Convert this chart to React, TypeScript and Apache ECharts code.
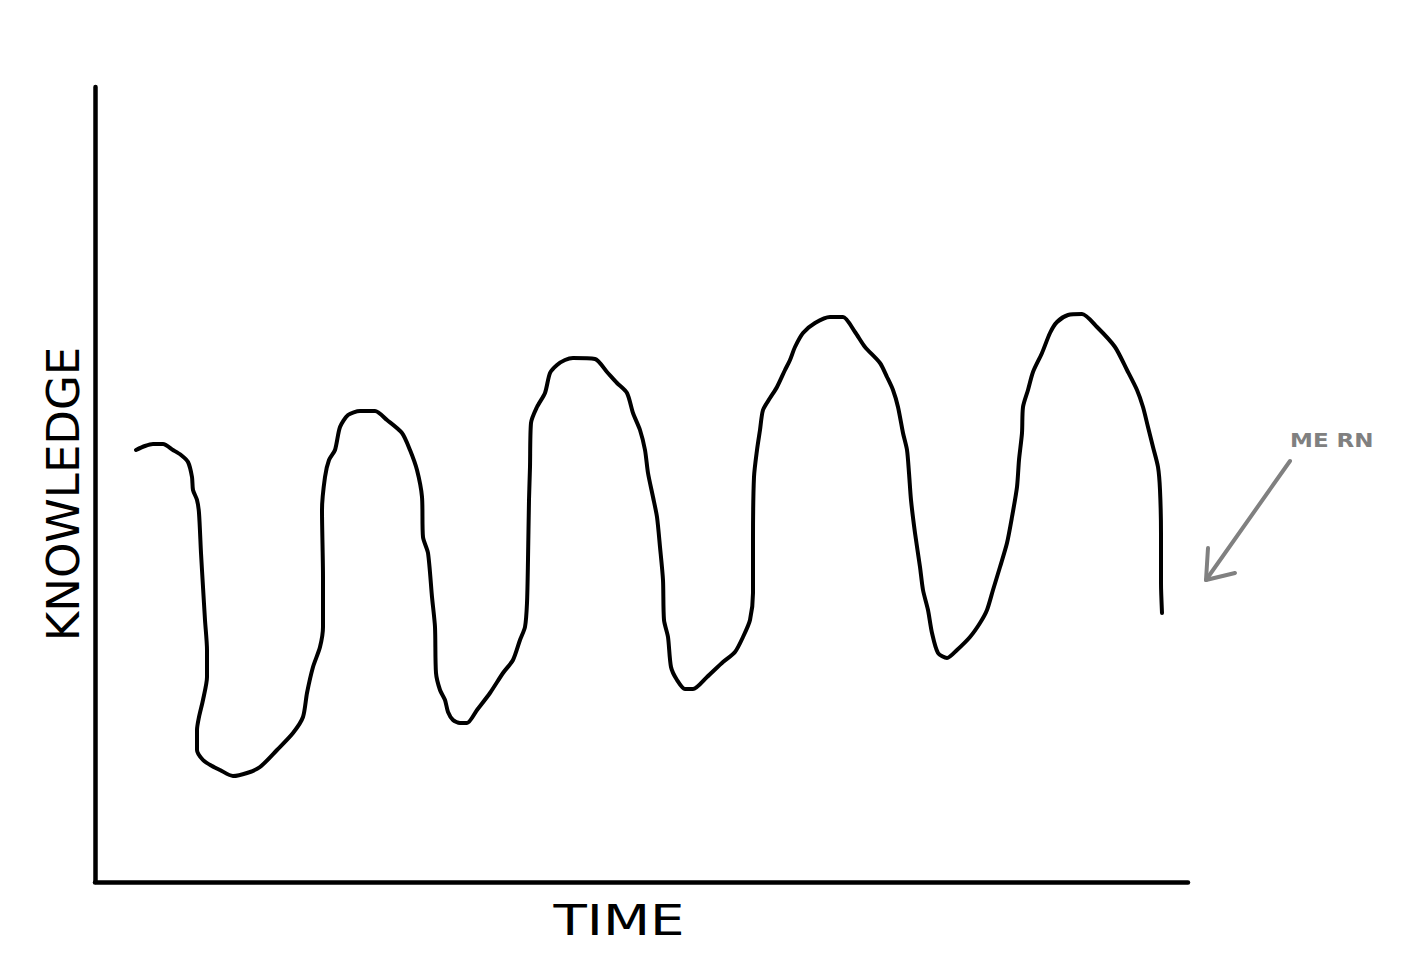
import React, { useEffect, useRef } from "react";
import * as echarts from "echarts";

// Curve: time (x) and knowledge (y), arbitrary units
const timeValues = [
  41, 50, 58, 68, 78, 86, 93, 97, 98, 102, 104, 106, 108, 110, 112, 112, 108, 104, 102, 102,
  108, 117, 125, 138, 152, 165, 182, 198, 208, 212, 218, 225, 228, 228, 227, 230, 234, 240, 245, 253,
  265, 280, 292, 307, 315, 322, 327, 328, 333, 337, 340, 341, 345, 350, 353, 358, 365, 372, 382, 395,
  408, 418, 425, 430, 432, 433, 434, 435, 436, 442, 450, 455, 462, 470, 478, 500, 512, 522, 532, 538,
  545, 550, 553, 558, 562, 565, 568, 569, 573, 576, 582, 590, 598, 612, 628, 640, 648, 655, 658, 658,
  659, 662, 665, 668, 675, 682, 690, 695, 700, 708, 720, 735, 748, 760, 770, 785, 792, 798, 803, 808,
  812, 814, 816, 820, 825, 828, 833, 837, 843, 852, 862, 875, 885, 892, 898, 905, 912, 917, 922, 924,
  927, 928, 933, 938, 947, 955, 962, 973, 987, 1002, 1020, 1032, 1042, 1048, 1053, 1058, 1063, 1065, 1066, 1066,
  1067,
];
const knowledgeValues = [
  432, 436, 438, 438, 432, 427, 420, 405, 392, 382, 369, 329, 295, 262, 232, 205, 182, 165, 152, 132,
  122, 116, 112, 106, 109, 115, 132, 149, 165, 189, 215, 235, 255, 305, 372, 405, 422, 432, 455, 467,
  471, 471, 462, 449, 432, 412, 385, 345, 329, 285, 255, 209, 192, 182, 170, 162, 159, 159, 172, 189,
  209, 222, 242, 255, 279, 322, 382, 415, 459, 475, 489, 509, 517, 522, 524, 523, 510, 499, 489, 469,
  452, 432, 409, 385, 365, 335, 302, 262, 245, 215, 202, 193, 193, 205, 220, 230, 245, 262, 289, 342,
  405, 432, 452, 472, 484, 495, 512, 522, 535, 549, 559, 565, 565, 550, 535, 519, 505, 492, 475, 449,
  432, 409, 382, 349, 315, 292, 272, 249, 229, 224, 232, 245, 259, 272, 292, 315, 339, 365, 395, 422,
  449, 475, 492, 510, 529, 549, 560, 567, 568, 555, 535, 512, 492, 475, 455, 435, 415, 392, 349, 299,
  269,
];

const axisTitles = { x: "TIME", y: "KNOWLEDGE" };
const annotationText = "ME RN";
// annotation anchors in data units: [time, knowledge]
const annotationLabelAt = [1195, 442];
const arrowTail = [1195, 421];
const arrowTip = [1111, 302];
const arrowHeadA = [1113, 334];
const arrowHeadB = [1140, 309];

const X_MAX = 1093;
const Y_MAX = 795;

export default function App() {
  const ref = useRef<HTMLDivElement>(null);

  useEffect(() => {
    if (!ref.current) return;
    const chart = echarts.init(ref.current, null, { renderer: "svg" });
    const data = timeValues.map((t, i) => [t, knowledgeValues[i]]);

    chart.setOption({
      animation: false,
      backgroundColor: "#ffffff",
      grid: { left: 95, right: 223, top: 87, bottom: 80, containLabel: false },
      xAxis: {
        type: "value",
        min: 0,
        max: X_MAX,
        axisLine: { show: true, lineStyle: { color: "#000", width: 4.5 } },
        axisTick: { show: false },
        axisLabel: { show: false },
        splitLine: { show: false },
      },
      yAxis: {
        type: "value",
        min: 0,
        max: Y_MAX,
        axisLine: { show: true, lineStyle: { color: "#000", width: 4.5 } },
        axisTick: { show: false },
        axisLabel: { show: false },
        splitLine: { show: false },
      },
      series: [
        {
          type: "line",
          data,
          showSymbol: false,
          symbol: "none",
          smooth: 0.25,
          clip: false,
          lineStyle: { color: "#000", width: 4, cap: "round", join: "round" },
        },
      ],
    });

    const px = (p: number[]) => chart.convertToPixel({ gridIndex: 0 }, p) as number[];
    const label = px(annotationLabelAt);
    const tail = px(arrowTail);
    const tip = px(arrowTip);
    const ha = px(arrowHeadA);
    const hb = px(arrowHeadB);
    const grey = "#808080";

    chart.setOption({
      graphic: [
        {
          type: "text",
          x: 619,
          y: 920,
          scaleX: 1.3,
          style: {
            text: axisTitles.x,
            font: "42px 'DejaVu Sans'",
            fill: "#000",
            align: "center",
            verticalAlign: "middle",
          },
        },
        {
          type: "text",
          x: 63,
          y: 494,
          rotation: Math.PI / 2,
          style: {
            text: axisTitles.y,
            font: "45px 'DejaVu Sans'",
            fill: "#000",
            align: "center",
            verticalAlign: "middle",
          },
        },
        {
          type: "text",
          x: label[0],
          y: label[1],
          scaleX: 1.15,
          style: {
            text: annotationText,
            font: "bold 20px 'DejaVu Sans'",
            fill: grey,
            align: "left",
            verticalAlign: "middle",
          },
        },
        {
          type: "line",
          shape: { x1: tail[0], y1: tail[1], x2: tip[0], y2: tip[1] },
          style: { stroke: grey, lineWidth: 4, lineCap: "round" },
        },
        {
          type: "polyline",
          shape: { points: [ha, tip, hb] },
          style: { stroke: grey, lineWidth: 4, lineCap: "round", lineJoin: "round", fill: null },
        },
      ],
    });

    return () => chart.dispose();
  }, []);

  return (
    <div
      ref={ref}
      style={{ position: "absolute", left: 0, top: 0, width: 1411, height: 962 }}
    />
  );
}
